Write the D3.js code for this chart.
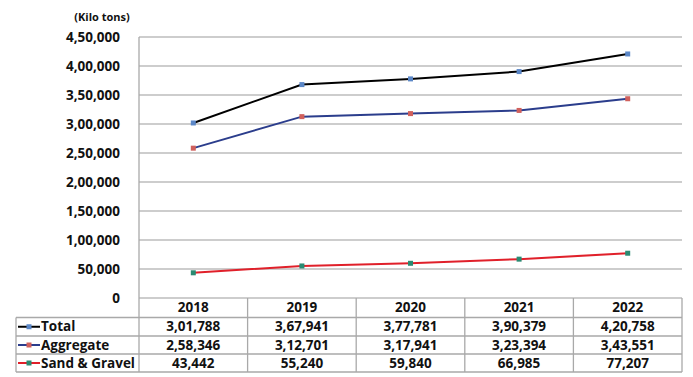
<!DOCTYPE html>
<html>
<head>
<meta charset="utf-8">
<script src="https://cdn.jsdelivr.net/npm/d3@7"></script>
<style>
html,body{margin:0;padding:0;background:#fff;}
svg text{font-family:"Open Sans","Noto Sans",sans-serif;font-weight:700;fill:#111;}
</style>
</head>
<body>
<svg id="chart" width="693" height="377"></svg>
<script>
const years = ["2018","2019","2020","2021","2022"];
const total = [301788, 367941, 377781, 390379, 420758];
const aggregate = [258346, 312701, 317941, 323394, 343551];
const sandGravel = [43442, 55240, 59840, 66985, 77207];
const seriesNames = ["Total","Aggregate","Sand & Gravel"];
const yTicks = [0,50000,100000,150000,200000,250000,300000,350000,400000,450000];
const unitLabel = "(Kilo tons)";

(function(){
const series = [
  {name: seriesNames[0], values: total, line: "#000000", marker: "#5b87c7"},
  {name: seriesNames[1], values: aggregate, line: "#2b3d8c", marker: "#d0605c"},
  {name: seriesNames[2], values: sandGravel, line: "#e0202a", marker: "#2a8a72"}
];

const fmt = v => {
  const s = String(Math.round(v));
  if (s.length <= 3) return s;
  const last3 = s.slice(-3);
  let rest = s.slice(0, -3);
  const parts = [];
  while (rest.length > 2) { parts.unshift(rest.slice(-2)); rest = rest.slice(0, -2); }
  if (rest.length) parts.unshift(rest);
  return parts.join(",") + "," + last3;
};

const fs = 13.5;
const svg = d3.select("#chart");
const pLeft = 139, pRight = 682, pTop = 37, pBottom = 298;
const x = d3.scaleBand().domain(years).range([pLeft, pRight]);
const y = d3.scaleLinear().domain([0, 450000]).range([pBottom, pTop]);

const grid = "#bdbdbd", tbl = "#a9a9a9";

svg.append("g").selectAll("line").data(yTicks).join("line")
  .attr("x1", pLeft).attr("x2", pRight)
  .attr("y1", d => y(d)).attr("y2", d => y(d))
  .attr("stroke", grid).attr("stroke-width", 1.3);

const yAxis = d3.axisLeft(y).tickValues(yTicks).tickFormat(fmt).tickSize(0).tickPadding(19);
const ya = svg.append("g").attr("transform", `translate(${pLeft},0)`).call(yAxis);
ya.select(".domain").remove();
ya.selectAll("text").attr("font-size", fs).style("font-family", '"Open Sans",sans-serif').style("font-weight", 700).attr("fill", "#111");

svg.append("text").attr("x", 102).attr("y", 21).attr("text-anchor", "middle")
  .attr("font-size", 11).text(unitLabel);

const rowY = [pBottom, 317.5, 336, 354, 372];
const tableLeft = 16;

svg.append("line").attr("x1", pLeft).attr("x2", pLeft).attr("y1", pTop).attr("y2", rowY[4])
  .attr("stroke", tbl).attr("stroke-width", 1.3);
const bounds = years.map(d => x(d) + x.bandwidth());
svg.append("g").selectAll("line").data(bounds).join("line")
  .attr("x1", d => d).attr("x2", d => d).attr("y1", pBottom).attr("y2", rowY[4])
  .attr("stroke", tbl).attr("stroke-width", 1.3);
svg.append("g").selectAll("line").data(rowY.slice(1)).join("line")
  .attr("x1", tableLeft).attr("x2", pRight).attr("y1", d => d).attr("y2", d => d)
  .attr("stroke", tbl).attr("stroke-width", 1.3);
svg.append("line").attr("x1", tableLeft).attr("x2", tableLeft).attr("y1", rowY[1]).attr("y2", rowY[4])
  .attr("stroke", tbl).attr("stroke-width", 1.3);

svg.append("g").selectAll("text").data(years).join("text")
  .attr("x", d => x(d) + x.bandwidth()/2).attr("y", (rowY[0]+rowY[1])/2 + 4.7)
  .attr("text-anchor", "middle").attr("font-size", fs).text(d => d);

series.forEach((s, i) => {
  const cy = (rowY[i+1] + rowY[i+2]) / 2;
  svg.append("line").attr("x1", 18).attr("x2", 40).attr("y1", cy).attr("y2", cy)
    .attr("stroke", s.line).attr("stroke-width", 2);
  svg.append("rect").attr("x", 26.5).attr("y", cy - 2.5).attr("width", 5).attr("height", 5)
    .attr("fill", s.marker);
  svg.append("text").attr("x", 41).attr("y", cy + 4.7).attr("font-size", fs).text(s.name);
  svg.append("g").selectAll("text").data(s.values).join("text")
    .attr("x", (d, j) => x(years[j]) + x.bandwidth()/2).attr("y", cy + 4.7)
    .attr("text-anchor", "middle").attr("font-size", fs).text(d => fmt(d));
});

const lineGen = d3.line().x((d, j) => x(years[j]) + x.bandwidth()/2).y(d => y(d));
series.forEach(s => {
  svg.append("path").datum(s.values).attr("d", lineGen)
    .attr("fill", "none").attr("stroke", s.line).attr("stroke-width", 2);
  svg.append("g").selectAll("rect").data(s.values).join("rect")
    .attr("x", (d, j) => x(years[j]) + x.bandwidth()/2 - 2.5)
    .attr("y", d => y(d) - 2.5).attr("width", 5).attr("height", 5)
    .attr("fill", s.marker);
});
})();
</script>
</body>
</html>
